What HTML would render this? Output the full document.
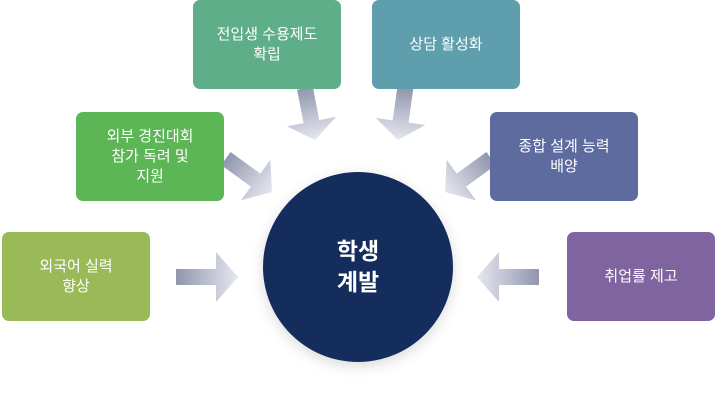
<!DOCTYPE html>
<html><head><meta charset="utf-8"><style>
body{margin:0;width:716px;height:405px;background:#fff;position:relative;overflow:hidden;font-family:"Liberation Sans","Noto Sans CJK KR",sans-serif}
.b{position:absolute;width:148px;height:89px;border-radius:7px;color:#fff;font-size:15px;line-height:20px;display:flex;align-items:center;justify-content:center;text-align:center}
.c{position:absolute;left:263px;top:172px;width:190px;height:190px;border-radius:50%;background:#152d5c;color:#fff;font-weight:bold;font-size:23px;line-height:31px;display:flex;align-items:center;justify-content:center;text-align:center;box-shadow:0 4px 14px rgba(0,0,0,.15)}
svg{position:absolute;left:0;top:0}
</style></head><body>
<svg width="716" height="405">
<defs>
<linearGradient id="g" gradientUnits="userSpaceOnUse" x1="-65" y1="0" x2="0" y2="0"><stop offset="0" stop-color="#8c92aa"/><stop offset="1" stop-color="#e6e8ef"/></linearGradient>
<polygon id="a" points="-62,-8 -22,-8 -22,-25 0,0 -22,25 -22,8 -62,8" fill="url(#g)"/>
</defs>
<use href="#a" transform="translate(238,277)"/>
<use href="#a" transform="translate(477,277) rotate(180)"/>
<use href="#a" transform="translate(315,140) rotate(79) scale(0.85,1)"/>
<use href="#a" transform="translate(398,140) rotate(98) scale(0.85,1)"/>
<use href="#a" transform="translate(272,192) rotate(36) scale(0.92,1)"/>
<use href="#a" transform="translate(445,192) rotate(144) scale(0.92,1)"/>
</svg>
<div class="b" style="left:2px;top:232px;background:#9aba57">외국어 실력<br>향상</div>
<div class="b" style="left:76px;top:112px;background:#5db656">외부 경진대회<br>참가 독려 및<br>지원</div>
<div class="b" style="left:193px;top:0;background:#5fae8a">전입생 수용제도<br>확립</div>
<div class="b" style="left:372px;top:0;background:#5f9fad">상담 활성화</div>
<div class="b" style="left:490px;top:112px;background:#5e6b9f">종합 설계 능력<br>배양</div>
<div class="b" style="left:567px;top:232px;background:#8064a0">취업률 제고</div>
<div class="c">학생<br>계발</div>
</body></html>
